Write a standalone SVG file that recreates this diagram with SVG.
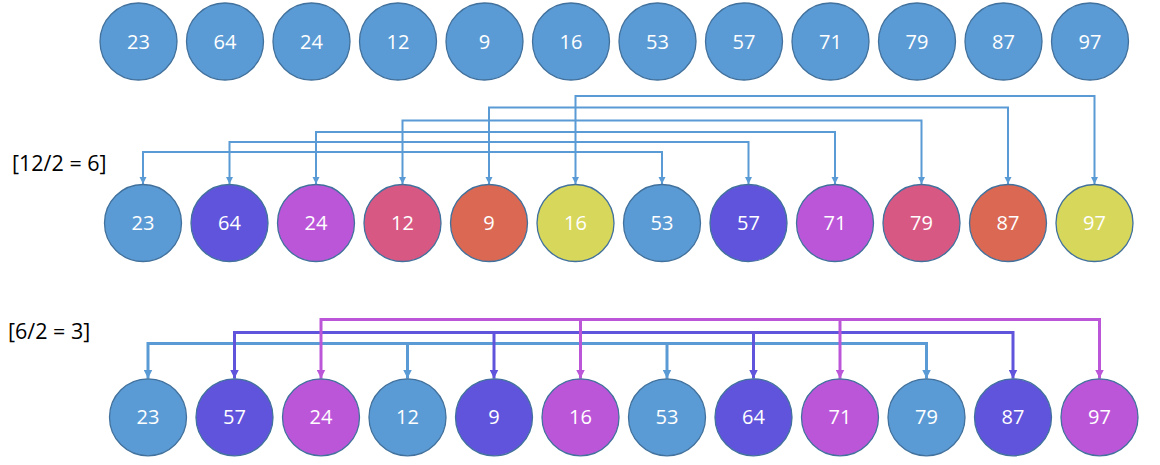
<svg xmlns="http://www.w3.org/2000/svg" width="1160" height="465" viewBox="0 0 1160 465">
  <style>
    .node circle { stroke: #41719C; stroke-width: 1.3; }
    .node text { font-family: "Open Sans", "Liberation Sans", sans-serif; font-size: 20px; fill: #FFFFFF; text-anchor: middle; }
    .blue { fill: #5B9BD5; }
    .indigo { fill: #6054DC; }
    .violet { fill: #BC56D9; }
    .rose { fill: #D85884; }
    .coral { fill: #DA6853; }
    .olive { fill: #D7D75B; }
    .label { font-family: "Open Sans", "Liberation Sans", sans-serif; font-size: 21.5px; fill: #000000; }
    .conn path { fill: none; stroke-linejoin: miter; }
    .thin { stroke-width: 2; }
    .thick { stroke-width: 3; }
    .c-blue { stroke: #5B9BD5; }
    .c-indigo { stroke: #6054DC; }
    .c-violet { stroke: #BC56D9; }
  </style>
  <defs>
    <marker id="ah-blue-s" viewBox="0 0 10 10" refX="10" refY="5" markerWidth="7" markerHeight="8" markerUnits="userSpaceOnUse" orient="auto-start-reverse">
      <path d="M0,0 L10,5 L0,10 Z" fill="#5B9BD5"/>
    </marker>
    <marker id="ah-blue" viewBox="0 0 10 10" refX="10" refY="5" markerWidth="9" markerHeight="9" markerUnits="userSpaceOnUse" orient="auto-start-reverse">
      <path d="M0,0 L10,5 L0,10 Z" fill="#5B9BD5"/>
    </marker>
    <marker id="ah-indigo" viewBox="0 0 10 10" refX="10" refY="5" markerWidth="9" markerHeight="9" markerUnits="userSpaceOnUse" orient="auto-start-reverse">
      <path d="M0,0 L10,5 L0,10 Z" fill="#6054DC"/>
    </marker>
    <marker id="ah-violet" viewBox="0 0 10 10" refX="10" refY="5" markerWidth="9" markerHeight="9" markerUnits="userSpaceOnUse" orient="auto-start-reverse">
      <path d="M0,0 L10,5 L0,10 Z" fill="#BC56D9"/>
    </marker>
  </defs>

  <!-- step labels -->
  <text class="label" x="12" y="171">[12/2 = 6]</text>
  <text class="label" x="8" y="339">[6/2 = 3]</text>

  <!-- connectors -->
  <g id="connectors" class="conn">
    <!-- gap 6: pairs i and i+6 -->
    <g class="thin c-blue" marker-start="url(#ah-blue-s)" marker-end="url(#ah-blue-s)">
      <path d="M143,184 V152 H662 V184"/>
      <path d="M229.5,184 V142 H748.5 V184"/>
      <path d="M316,184 V132 H835 V184"/>
      <path d="M402.5,184 V120.5 H921.5 V184"/>
      <path d="M489,184 V107.5 H1008 V184"/>
      <path d="M575.5,184 V96 H1094.5 V184"/>
    </g>
    <!-- gap 3: three interleaved groups -->
    <g class="thick c-blue">
      <path d="M148,378.5 V343.5 H926.5 V378.5" marker-start="url(#ah-blue)" marker-end="url(#ah-blue)"/>
      <path d="M407.5,343.5 V378.5" marker-end="url(#ah-blue)"/>
      <path d="M667,343.5 V378.5" marker-end="url(#ah-blue)"/>
    </g>
    <g class="thick c-indigo">
      <path d="M234.5,378.5 V332.5 H1013 V378.5" marker-start="url(#ah-indigo)" marker-end="url(#ah-indigo)"/>
      <path d="M494,332.5 V378.5" marker-end="url(#ah-indigo)"/>
      <path d="M753.5,332.5 V378.5" marker-end="url(#ah-indigo)"/>
    </g>
    <g class="thick c-violet">
      <path d="M321,378.5 V319.5 H1099.5 V378.5" marker-start="url(#ah-violet)" marker-end="url(#ah-violet)"/>
      <path d="M580.5,319.5 V378.5" marker-end="url(#ah-violet)"/>
      <path d="M840,319.5 V378.5" marker-end="url(#ah-violet)"/>
    </g>
  </g>

  <!-- row 1: input -->
  <g id="r1n1" class="node"><circle class="blue" cx="138.5" cy="41.5" r="38.5"/><text x="138.5" y="48.5">23</text></g>
  <g id="r1n2" class="node"><circle class="blue" cx="225" cy="41.5" r="38.5"/><text x="225" y="48.5">64</text></g>
  <g id="r1n3" class="node"><circle class="blue" cx="311.5" cy="41.5" r="38.5"/><text x="311.5" y="48.5">24</text></g>
  <g id="r1n4" class="node"><circle class="blue" cx="398" cy="41.5" r="38.5"/><text x="398" y="48.5">12</text></g>
  <g id="r1n5" class="node"><circle class="blue" cx="484.5" cy="41.5" r="38.5"/><text x="484.5" y="48.5">9</text></g>
  <g id="r1n6" class="node"><circle class="blue" cx="571" cy="41.5" r="38.5"/><text x="571" y="48.5">16</text></g>
  <g id="r1n7" class="node"><circle class="blue" cx="657.5" cy="41.5" r="38.5"/><text x="657.5" y="48.5">53</text></g>
  <g id="r1n8" class="node"><circle class="blue" cx="744" cy="41.5" r="38.5"/><text x="744" y="48.5">57</text></g>
  <g id="r1n9" class="node"><circle class="blue" cx="830.5" cy="41.5" r="38.5"/><text x="830.5" y="48.5">71</text></g>
  <g id="r1n10" class="node"><circle class="blue" cx="917" cy="41.5" r="38.5"/><text x="917" y="48.5">79</text></g>
  <g id="r1n11" class="node"><circle class="blue" cx="1003.5" cy="41.5" r="38.5"/><text x="1003.5" y="48.5">87</text></g>
  <g id="r1n12" class="node"><circle class="blue" cx="1090" cy="41.5" r="38.5"/><text x="1090" y="48.5">97</text></g>

  <!-- row 2: gap 6 -->
  <g id="r2n1" class="node"><circle class="blue" cx="143" cy="223" r="38.5"/><text x="143" y="230">23</text></g>
  <g id="r2n2" class="node"><circle class="indigo" cx="229.5" cy="223" r="38.5"/><text x="229.5" y="230">64</text></g>
  <g id="r2n3" class="node"><circle class="violet" cx="316" cy="223" r="38.5"/><text x="316" y="230">24</text></g>
  <g id="r2n4" class="node"><circle class="rose" cx="402.5" cy="223" r="38.5"/><text x="402.5" y="230">12</text></g>
  <g id="r2n5" class="node"><circle class="coral" cx="489" cy="223" r="38.5"/><text x="489" y="230">9</text></g>
  <g id="r2n6" class="node"><circle class="olive" cx="575.5" cy="223" r="38.5"/><text x="575.5" y="230">16</text></g>
  <g id="r2n7" class="node"><circle class="blue" cx="662" cy="223" r="38.5"/><text x="662" y="230">53</text></g>
  <g id="r2n8" class="node"><circle class="indigo" cx="748.5" cy="223" r="38.5"/><text x="748.5" y="230">57</text></g>
  <g id="r2n9" class="node"><circle class="violet" cx="835" cy="223" r="38.5"/><text x="835" y="230">71</text></g>
  <g id="r2n10" class="node"><circle class="rose" cx="921.5" cy="223" r="38.5"/><text x="921.5" y="230">79</text></g>
  <g id="r2n11" class="node"><circle class="coral" cx="1008" cy="223" r="38.5"/><text x="1008" y="230">87</text></g>
  <g id="r2n12" class="node"><circle class="olive" cx="1094.5" cy="223" r="38.5"/><text x="1094.5" y="230">97</text></g>

  <!-- row 3: gap 3 -->
  <g id="r3n1" class="node"><circle class="blue" cx="148" cy="417.3" r="38.5"/><text x="148" y="424.3">23</text></g>
  <g id="r3n2" class="node"><circle class="indigo" cx="234.5" cy="417.3" r="38.5"/><text x="234.5" y="424.3">57</text></g>
  <g id="r3n3" class="node"><circle class="violet" cx="321" cy="417.3" r="38.5"/><text x="321" y="424.3">24</text></g>
  <g id="r3n4" class="node"><circle class="blue" cx="407.5" cy="417.3" r="38.5"/><text x="407.5" y="424.3">12</text></g>
  <g id="r3n5" class="node"><circle class="indigo" cx="494" cy="417.3" r="38.5"/><text x="494" y="424.3">9</text></g>
  <g id="r3n6" class="node"><circle class="violet" cx="580.5" cy="417.3" r="38.5"/><text x="580.5" y="424.3">16</text></g>
  <g id="r3n7" class="node"><circle class="blue" cx="667" cy="417.3" r="38.5"/><text x="667" y="424.3">53</text></g>
  <g id="r3n8" class="node"><circle class="indigo" cx="753.5" cy="417.3" r="38.5"/><text x="753.5" y="424.3">64</text></g>
  <g id="r3n9" class="node"><circle class="violet" cx="840" cy="417.3" r="38.5"/><text x="840" y="424.3">71</text></g>
  <g id="r3n10" class="node"><circle class="blue" cx="926.5" cy="417.3" r="38.5"/><text x="926.5" y="424.3">79</text></g>
  <g id="r3n11" class="node"><circle class="indigo" cx="1013" cy="417.3" r="38.5"/><text x="1013" y="424.3">87</text></g>
  <g id="r3n12" class="node"><circle class="violet" cx="1099.5" cy="417.3" r="38.5"/><text x="1099.5" y="424.3">97</text></g>
</svg>
